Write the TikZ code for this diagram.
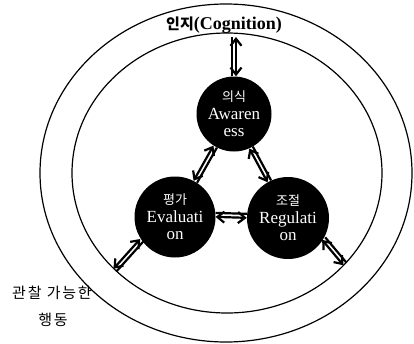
\documentclass[tikz,border=0pt]{standalone}
\usepackage{fontspec}
\setmainfont{Liberation Serif}
\newfontfamily\kr{Noto Sans CJK KR}
\newfontfamily\krwide{Noto Sans CJK KR}[LetterSpace=12]
\usetikzlibrary{arrows.meta,calc}
\tikzset{
ball/.style={circle,fill=black,text=white,inner sep=0pt,minimum size=#1,
  align=center,font=\fontsize{17}{17.5}\selectfont},
twoway/.style={line width=2.2pt,
  {Straight Barb[length=7pt,width=11pt]}-{Straight Barb[length=7pt,width=11pt]},
  to path={($(\tikztostart)!2pt!90:(\tikztotarget)$) -- ($(\tikztotarget)!2pt!-90:(\tikztostart)$)
    ($(\tikztostart)!2pt!-90:(\tikztotarget)$) -- ($(\tikztotarget)!2pt!90:(\tikztostart)$)}}
}
\begin{document}
\begin{tikzpicture}[x=1pt,y=-1pt]
\useasboundingbox (0,0) rectangle (414,343);
\draw[line width=1.2pt] (226,173) ellipse [x radius=186pt,y radius=169pt];
\draw[line width=1.2pt] (227,173) ellipse [x radius=155pt,y radius=140pt];
\path
(234,114) node[ball=75pt] (aw) {{\kr\fontsize{13}{17.5}\selectfont 의식}\\Awaren\\ess}
(175,217) node[ball=81pt] (ev) {{\kr\fontsize{13}{17.5}\selectfont 평가}\\Evaluati\\on}
(288,218) node[ball=82pt] (re) {{\kr\fontsize{13}{17.5}\selectfont 조절}\\Regulati\\on}
(224,25) node[font=\bfseries\fontsize{18}{20}\selectfont] (cog) {{\kr\fontsize{15}{20}\selectfont 인지}(Cognition)}
(52,293) node[font=\krwide\fontsize{15}{17}\selectfont] (obs) {관찰 가능한}
(53,320) node[font=\krwide\fontsize{15}{17}\selectfont] (act) {행동}
(234,37) coordinate (top)
(115,270) coordinate (ll)
(345,264) coordinate (lr);
%\draw[twoway] (aw.north) to (cog.south);
\draw[twoway] (aw.90) to (top);
\draw[twoway] (aw.240) to (ev.60);
\draw[twoway] (aw.297) to (re.117);
\draw[twoway] (ev.3) to (re.177);
\draw[twoway] (ev.215) to (ll);
\draw[twoway] (re.330) to (lr);
\end{tikzpicture}
\end{document}
